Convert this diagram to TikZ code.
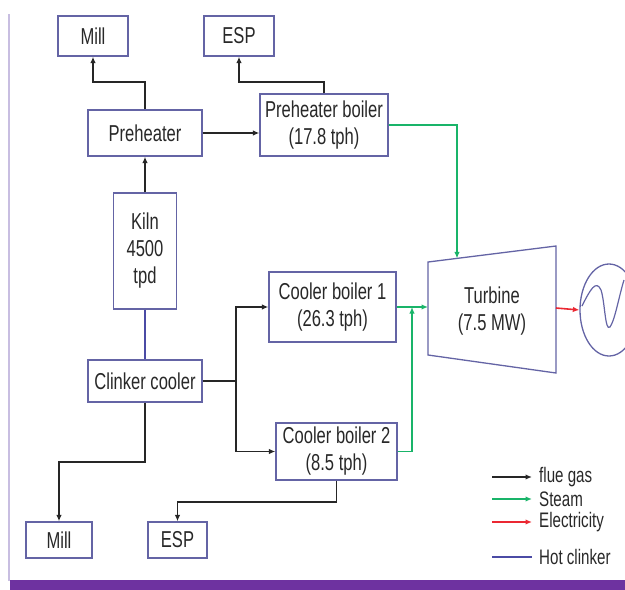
\documentclass[tikz,border=0pt]{standalone}
\usepackage{fontspec}
\setmainfont{Liberation Sans}[FakeStretch=0.72]
\usetikzlibrary{arrows.meta,shapes.geometric}
\definecolor{boxc}{RGB}{100,100,165}
\definecolor{txt}{RGB}{40,40,40}
\definecolor{steamc}{RGB}{25,180,105}
\definecolor{elecc}{RGB}{235,40,50}
\definecolor{clinkc}{RGB}{75,75,165}
\definecolor{framec}{RGB}{200,190,225}
\definecolor{barc}{RGB}{110,50,160}
\tikzset{
  box/.style={draw=boxc, line width=1.3pt, fill=white, text=txt, align=center, inner sep=0pt,
    font=\fontsize{23}{27}\selectfont},
  lbl/.style={text=txt, inner sep=0pt, font=\fontsize{23}{27}\selectfont},
  leg/.style={text=txt, inner sep=0pt, anchor=west, font=\fontsize{21}{24}\selectfont},
  tip/.style={-{Latex[length=6.5pt,width=5.5pt]}},
  flue/.style={tip, draw=black!85, line width=1.3pt},
  steam/.style={tip, draw=steamc, line width=1.3pt},
  elec/.style={tip, draw=elecc, line width=1.6pt},
  clink/.style={draw=clinkc, line width=1.4pt}
}
\begin{document}
\begin{tikzpicture}[x=1pt,y=-1pt]
\useasboundingbox (0,0) rectangle (625,590);
% frame
\draw[framec, line width=1.5pt] (9,14) -- (9,581);
\fill[barc] (10,580) rectangle (625,590);

% boxes
\node[box, minimum width=70, minimum height=40] (millT) at (93,36) {Mill};
\node[box, minimum width=70, minimum height=40] (espT) at (239,36) {ESP};
\node[box, minimum width=114, minimum height=46] (pre) at (145,133) {Preheater};
\node[box, minimum width=128, minimum height=62] (pb) at (324,125) {Preheater boiler\\(17.8 tph)};
\node[box, minimum width=63, minimum height=116] (kiln) at (145,251) {Kiln\\4500\\tpd};
\node[box, minimum width=127, minimum height=70] (cb1) at (332.5,307) {Cooler boiler 1\\(26.3 tph)};
\node[box, minimum width=121, minimum height=57] (cb2) at (336.5,451.5) {Cooler boiler 2\\(8.5 tph)};
\node[box, minimum width=114, minimum height=42] (clk) at (145,381) {Clinker cooler};
\node[box, minimum width=66, minimum height=36] (millB) at (59,540) {Mill};
\node[box, minimum width=59, minimum height=36] (espB) at (177.5,540) {ESP};

% turbine
\coordinate (t1) at (428,262);
\coordinate (t2) at (556,246);
\coordinate (t3) at (556,373);
\coordinate (t4) at (428,355);
\draw[boxc, line width=1.3pt, fill=white] (t1) -- (t2) -- (t3) -- (t4) -- cycle;
\node[lbl, align=center] (turb) at (492,311) {Turbine\\(7.5 MW)};
\coordinate (ttop) at (457,258.4);
\coordinate (tleft) at (428,307);
\coordinate (tright) at (556,308);

% generator
\node[draw=boxc, line width=1.3pt, ellipse, minimum width=58, minimum height=92, inner sep=0pt] (gen) at (609,310) {};
\draw[boxc, line width=1.2pt] (582,306) .. controls (590,290) and (596,279) .. (601,290)
  .. controls (605,302) and (605,332) .. (610,327) .. controls (615,320) and (619,296) .. (624,280);

% flue gas connectors
\draw[flue] (pre.north) -- (pre.north |- 0,82) -| (millT.south);
\draw[flue] (pb.north) -- (pb.north |- 0,82) -| (espT.south);
\draw[flue] (pre.east) -- (pb.west |- pre.east);
\draw[flue] (kiln.north) -- (pre.south);
\coordinate (sp) at (236,381);
\draw[flue] (clk.east) -- (sp) |- (cb1.west);
\draw[flue] (sp) |- (cb2.west);
\draw[flue] (clk.south) -- (clk.south |- 0,462) -| (millB.north);
\draw[flue] (cb2.south) -- (cb2.south |- 0,502) -| (espB.north);

% hot clinker
\draw[clink] (kiln.south) -- (clk.north);

% steam
\draw[steam] (pb.east) -| (ttop);
\draw[steam] (cb1.east) -- (tleft);
\coordinate (jn) at (412,307);
\draw[steam] (cb2.east) -| (jn);

% electricity
\draw[elec] (tright) -- (gen.west);

% legend
\coordinate (la1) at (492,477); \coordinate (lb1) at (532,477);
\coordinate (la2) at (492,499); \coordinate (lb2) at (532,499);
\coordinate (la3) at (492,522); \coordinate (lb3) at (532,522);
\coordinate (la4) at (492,557); \coordinate (lb4) at (532,557);
\draw[flue] (la1) -- (lb1);
\draw[steam] (la2) -- (lb2);
\draw[elec, line width=1.3pt] (la3) -- (lb3);
\draw[clink, line width=2pt] (la4) -- (lb4);
\node[leg] (lg1) at (539,477) {flue gas};
\node[leg] (lg2) at (539,499) {Steam};
\node[leg] (lg3) at (539,522) {Electricity};
\node[leg] (lg4) at (539,557) {Hot clinker};
\end{tikzpicture}
\end{document}
